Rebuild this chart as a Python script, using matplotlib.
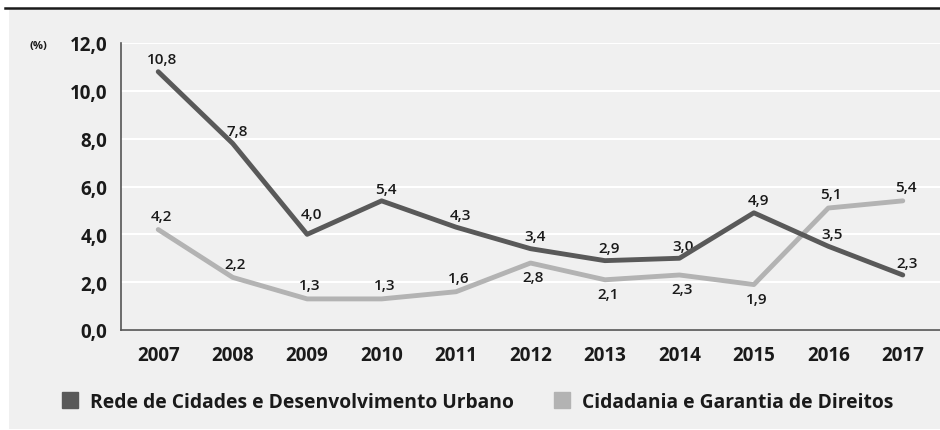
import matplotlib
matplotlib.use("Agg")
import matplotlib.pyplot as plt
from matplotlib.patches import Rectangle
from matplotlib.lines import Line2D

years = ["2007", "2008", "2009", "2010", "2011", "2012", "2013", "2014", "2015", "2016", "2017"]
rede = [10.8, 7.8, 4.0, 5.4, 4.3, 3.4, 2.9, 3.0, 4.9, 3.5, 2.3]
cidadania = [4.2, 2.2, 1.3, 1.3, 1.6, 2.8, 2.1, 2.3, 1.9, 5.1, 5.4]
cid_label_pos = ["a", "a", "a", "a", "a", "b", "b", "b", "b", "a", "a"]
series_names = ["Rede de Cidades e Desenvolvimento Urbano", "Cidadania e Garantia de Direitos"]
yticks = [0, 2, 4, 6, 8, 10, 12]

# label offsets (points) for the dark series
rede_dy = [6, 6, 12, 6, 6, 6, 6, 6, 6, 6, 6]

plt.rcParams['font.family'] = ['Open Sans', 'DejaVu Sans']

W, H = 940, 431
fig = plt.figure(figsize=(W / 100, H / 100), dpi=100)
fig.patch.set_facecolor("white")

bg = Rectangle((9 / W, 1 / H), 1 - 9 / W, (H - 11) / H, transform=fig.transFigure,
               facecolor="#f0f0f0", edgecolor="none", zorder=-10)
fig.add_artist(bg)
fig.add_artist(Line2D([5 / W, 1], [(H - 9) / H, (H - 9) / H], color="#1a1a1a", lw=1.8,
                      transform=fig.transFigure, zorder=-5))

ax = fig.add_axes([121 / W, (H - 331) / H, 1 - 121 / W, (331 - 44) / H])
ax.set_zorder(1)
ax.set_facecolor("#f0f0f0")
x = list(range(len(years)))
dark = "#595959"
light = "#b3b3b3"
ax.plot(x, cidadania, color=light, lw=3.5, solid_capstyle="round", solid_joinstyle="round", zorder=3)
ax.plot(x, rede, color=dark, lw=3.5, solid_capstyle="round", solid_joinstyle="round", zorder=4)

ax.set_xlim(-0.5, len(years) - 0.5)
ax.set_ylim(0, 12)
ax.set_yticks(yticks)
ax.set_yticklabels([f"{v:.1f}".replace(".", ",") for v in yticks])
ax.set_xticks(x)
ax.set_xticklabels(years)
ax.grid(axis="y", color="white", lw=1.5)
ax.set_axisbelow(True)
for s in ["top", "right"]:
    ax.spines[s].set_visible(False)
for s in ["left", "bottom"]:
    ax.spines[s].set_color("#555555")
    ax.spines[s].set_linewidth(1.2)
ax.tick_params(length=0, labelsize=13.5, colors="#1a1a1a", pad=11)
ax.tick_params(axis="y", pad=10)
for lab in ax.get_xticklabels() + ax.get_yticklabels():
    lab.set_fontweight("bold")

def fmt(v):
    return f"{v:.1f}".replace(".", ",")

lbl_kw = dict(textcoords="offset points", ha="center", fontsize=11, fontweight="semibold",
              color="#1a1a1a")
for i, v in enumerate(rede):
    ax.annotate(fmt(v), (i, v), xytext=(3, rede_dy[i]), va="baseline", **lbl_kw)
for i, v in enumerate(cidadania):
    if cid_label_pos[i] == "a":
        ax.annotate(fmt(v), (i, v), xytext=(2, 7), va="baseline", **lbl_kw)
    else:
        ax.annotate(fmt(v), (i, v), xytext=(2, -5), va="top", **lbl_kw)

fig.text(30 / W, (H - 47) / H, "(%)", fontsize=8, fontweight="bold", color="#1a1a1a",
         ha="left", va="center")

handles = [Line2D([], [], marker="s", ls="none", markersize=11, color=dark),
           Line2D([], [], marker="s", ls="none", markersize=11, color=light)]
leg = fig.legend(handles, series_names, loc="center left", bbox_to_anchor=(53 / W, (H - 403) / H),
                 ncol=2, frameon=False, fontsize=13.9, handletextpad=0.52, columnspacing=2.0,
                 handlelength=1.0, borderaxespad=0)
for t in leg.get_texts():
    t.set_fontweight("bold")
    t.set_color("#1a1a1a")

fig.savefig("out.png", dpi=100, facecolor=fig.get_facecolor())
